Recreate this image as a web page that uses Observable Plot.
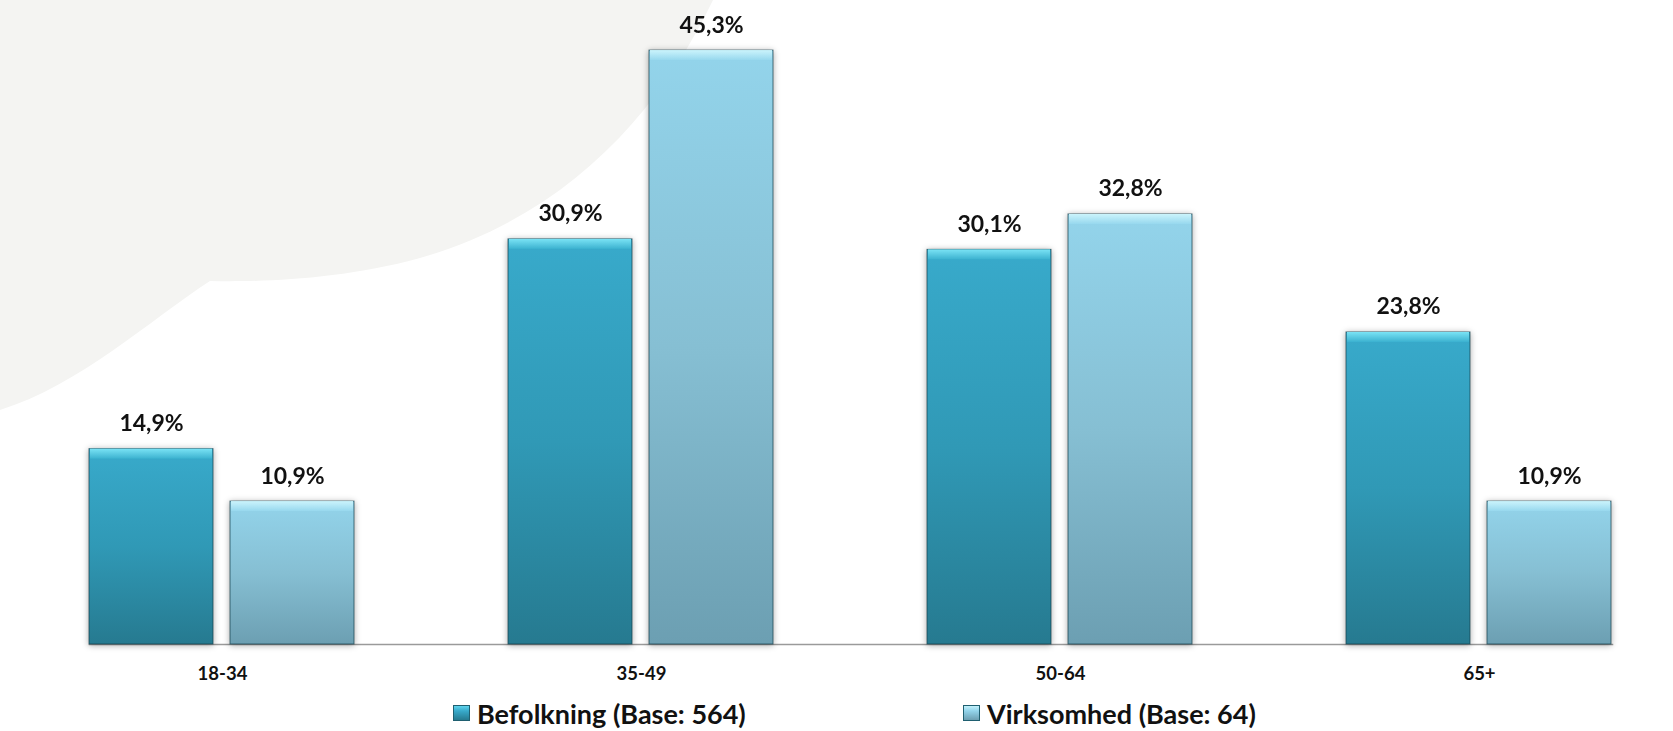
<!DOCTYPE html>
<html><head><meta charset="utf-8">
<script src="https://cdn.jsdelivr.net/npm/d3@7"></script>
<script src="https://cdn.jsdelivr.net/npm/@observablehq/plot@0.6"></script>
<style>
html,body{margin:0;padding:0;background:#fff;}
#wrap{position:relative;width:1673px;height:731px;overflow:hidden;font-family:Lato,"Open Sans",sans-serif;}
#bg{position:absolute;left:0;top:0;}
#chart{position:absolute;left:0;top:0;}
#legend{position:absolute;left:0;top:695px;width:1673px;height:36px;}
.item{position:absolute;top:0;height:36px;display:flex;align-items:center;font-weight:700;font-size:27px;color:#111;white-space:nowrap;}
.sw{width:17px;height:16px;margin-right:7px;box-sizing:border-box;border:1px solid #1f5f70;}
</style></head><body>
<div id="wrap">
<svg id="bg" width="1673" height="731"><path d="M0,0 L713,0 C660,110 570,215 420,258 C340,280 260,282 210,281 C150,320 80,385 0,410 Z" fill="#f4f4f2"/></svg>
<div id="chart"></div>
<div id="legend"></div>
</div>
<script>
const categories = ["18-34", "35-49", "50-64", "65+"];
const seriesKeys = ["Befolkning", "Virksomhed"];
const seriesLabels = ["Befolkning (Base: 564)", "Virksomhed (Base: 64)"];
const befolkning = [14.9, 30.9, 30.1, 23.8];
const virksomhed = [10.9, 45.3, 32.8, 10.9];

const data = categories.flatMap((c, i) => [
  {cat: c, s: seriesKeys[0], v: befolkning[i]},
  {cat: c, s: seriesKeys[1], v: virksomhed[i]}
]);
const fmt = v => v.toFixed(1).replace(".", ",") + "%";

const chart = Plot.plot({
  width: 1673, height: 690,
  marginTop: 0, marginBottom: 46, marginLeft: 13, marginRight: 0,
  style: {background: "transparent", fontFamily: "Lato, 'Open Sans', sans-serif", overflow: "visible", color: "#111"},
  fx: {domain: categories, range: [13, 1689], paddingInner: 0.365, paddingOuter: 0.1825, label: null},
  x: {domain: seriesKeys, paddingInner: 0.12, paddingOuter: 0, axis: null},
  y: {domain: [0, 49.12], axis: null},
  color: {domain: seriesKeys, range: ["url(#gB)", "url(#gV)"]},
  marks: [
    Plot.frame({anchor: "bottom", facet: "super", stroke: "#9a9a9a", strokeWidth: 1.5}),
    Plot.barY(data, {fx: "cat", x: "s", y: "v", fill: "s", stroke: "#163f4b", strokeWidth: 1, strokeOpacity: 0.7}),
    Plot.barY(data.filter(d => d.s === seriesKeys[0]), {fx: "cat", x: "s", y1: "v", y2: "v", insetBottom: -10, insetLeft: 1, insetRight: 1, fill: "url(#bB)"}),
    Plot.barY(data.filter(d => d.s === seriesKeys[1]), {fx: "cat", x: "s", y1: "v", y2: "v", insetBottom: -10, insetLeft: 1, insetRight: 1, fill: "url(#bV)"}),
    Plot.text(data, {fx: "cat", x: "s", y: "v", text: d => fmt(d.v), dy: -18, lineAnchor: "bottom", fontSize: 23, fontWeight: 700, fill: "#111"}),
    Plot.axisFx({anchor: "bottom", tickSize: 0, tickPadding: 22, fontSize: 18.5, fontWeight: 700, label: null})
  ]
});

const defs = d3.select(chart).insert("defs", ":first-child");
function grad(id, stops) {
  const g = defs.append("linearGradient").attr("id", id).attr("x1", 0).attr("y1", 0).attr("x2", 0).attr("y2", 1);
  stops.forEach(([o, c]) => g.append("stop").attr("offset", o).attr("stop-color", c));
}
grad("gB", [[0, "#38aacb"], [0.5, "#3099b6"], [1, "#267a90"]]);
grad("gV", [[0, "#93d4eb"], [0.5, "#86bfd3"], [1, "#6c9fb2"]]);
grad("bB", [[0, "#7ae3f5"], [1, "#3cb2d0"]]);
grad("bV", [[0, "#cbf4fc"], [1, "#97d8ee"]]);

const barGroups = chart.querySelectorAll('g[aria-label="bar"]');
if (barGroups[0]) barGroups[0].style.filter = "drop-shadow(0px 1px 3px rgba(0,0,0,0.35))";

document.getElementById("chart").appendChild(chart);

const legend = document.getElementById("legend");
const swatchBg = ["linear-gradient(#5fd3ec,#38aacb 35%,#267a90)", "linear-gradient(#c2f0fa,#93d4eb 35%,#6c9fb2)"];
const legendX = [453, 963];
seriesLabels.forEach((lab, i) => {
  const it = document.createElement("div");
  it.className = "item";
  it.style.left = legendX[i] + "px";
  const sw = document.createElement("span");
  sw.className = "sw";
  sw.style.background = swatchBg[i];
  const tx = document.createElement("span");
  tx.textContent = lab;
  it.appendChild(sw); it.appendChild(tx);
  legend.appendChild(it);
});
</script>
</body></html>
